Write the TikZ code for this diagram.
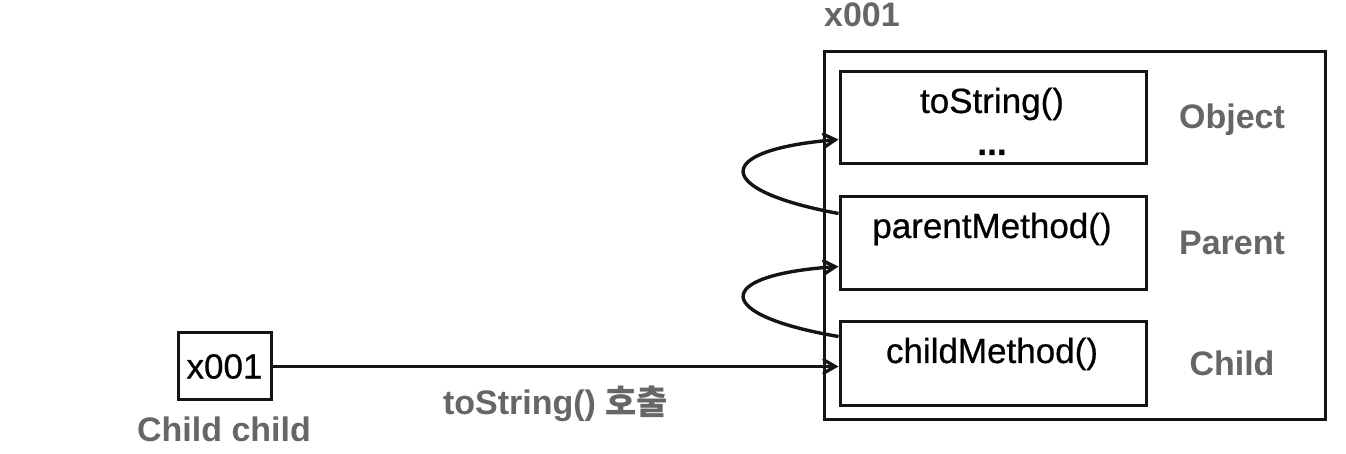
\documentclass[tikz,border=0pt]{standalone}
\usepackage{fontspec}
\setmainfont{Liberation Sans}
\newfontfamily\boxfont{Liberation Sans}[FakeBold=0.6]
\newfontfamily\krfont{Noto Sans CJK KR}
\definecolor{collabel}{RGB}{102,102,102}
\definecolor{colline}{RGB}{20,20,20}
\usetikzlibrary{arrows}
\tikzset{
	>=angle 60,
	call/.style={->, line width=1.7pt, draw=colline},
	membox/.style={draw=colline, line width=1.5pt, minimum width=153pt, inner sep=0pt},
	method/.style={font=\boxfont\fontsize{17.5}{20}\selectfont, inner sep=0pt, anchor=base},
	tag/.style={font=\fontsize{17}{20}\selectfont\bfseries, text=collabel, inner sep=0pt, anchor=base}
}
\begin{document}
\begin{tikzpicture}[x=0.5pt, y=-0.5pt]
	\useasboundingbox (0,0) rectangle (1346,454);
	\begin{scope}
		\node[membox, minimum width=250.5pt, minimum height=184pt] (heap) at (1074.5,236) {};
		\node[tag] (heapaddr) at (862,27) {x001};
		\node[membox, minimum height=46pt] (objbox) at (993,118) {};
		\node[membox, minimum height=46.5pt] (parentbox) at (993,243.5) {};
		\node[membox, minimum height=42pt] (childbox) at (993,364) {};
		\foreach \name/\text/\y in {objm/toString()/113, parentm/parentMethod()/238, childm/childMethod()/363} {
			\node[method] (\name) at (992,\y) {\text};
		}
		\node[method] (objdots) at (992,155) {\bfseries ...};
		\foreach \name/\text/\y in {objtag/Object/129, parenttag/Parent/255, childtag/Child/376} {
			\node[tag] (\name) at (1232,\y) {\text};
		}
	\end{scope}
	\begin{scope}
		\node[membox, minimum width=46.5pt, minimum height=33.5pt, font=\boxfont\fontsize{17.5}{20}\selectfont] (ref) at (224.5,366.5) {x001};
		\node[tag] (refname) at (224,442) {Child child};
		\draw[call] (ref.east) -- (ref.east -| childbox.west)
			node[tag, midway, yshift=-24pt] (callnote) {toString() {\krfont\bfseries 호출}};
	\end{scope}
	\draw[call] ([yshift=-9pt]parentbox.north west) .. controls (712,190) and (712,150) .. ([yshift=13pt]objbox.south west);
	\draw[call] ([yshift=-8pt]childbox.north west) .. controls (712,315) and (712,275) .. ([yshift=12.5pt]parentbox.south west);
\end{tikzpicture}
\end{document}
